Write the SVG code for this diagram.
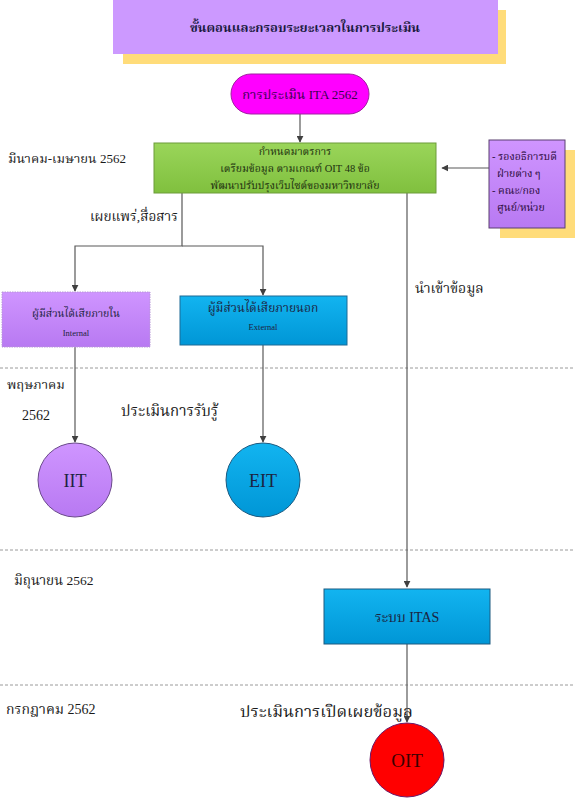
<svg xmlns="http://www.w3.org/2000/svg" width="575" height="800" viewBox="0 0 575 800">
<defs>
<style>
text{font-family:"Liberation Serif","Noto Serif Thai","Noto Sans Thai","DejaVu Serif",serif;fill:#1a1a1a}
.lbl{font-size:14px}
.mid{text-anchor:middle}
.conn{stroke:#595959;stroke-width:1.2;fill:none}
.dash{stroke:#9a9a9a;stroke-width:1;stroke-dasharray:3,2}
.nt{fill:#1c2340}
</style>
<linearGradient id="gPur" x1="0" y1="0" x2="0" y2="1"><stop offset="0" stop-color="#cf95ff"/><stop offset="1" stop-color="#b879f2"/></linearGradient>
<linearGradient id="gBlue" x1="0" y1="0" x2="0" y2="1"><stop offset="0" stop-color="#12b4f0"/><stop offset="1" stop-color="#0096d6"/></linearGradient>
<linearGradient id="gGreen" x1="0" y1="0" x2="0" y2="1"><stop offset="0" stop-color="#9ad55a"/><stop offset="1" stop-color="#80c03e"/></linearGradient>
<marker id="arr" viewBox="0 0 10 10" refX="9" refY="5" markerWidth="7" markerHeight="7" orient="auto" markerUnits="userSpaceOnUse"><path d="M0,0 L10,5 L0,10 z" fill="#404040"/></marker>
</defs>
<rect width="575" height="800" fill="#ffffff"/>

<g id="dividers">
<line class="dash" x1="0" y1="368" x2="575" y2="368"/>
<line class="dash" x1="0" y1="550" x2="575" y2="550"/>
<line class="dash" x1="0" y1="685" x2="575" y2="685"/>
</g>

<g id="title">
<rect x="123" y="10" width="383" height="54" fill="#ffdc7a"/>
<rect x="113" y="0" width="385" height="54" fill="#cc99ff"/>
<text x="305" y="32" class="mid" font-size="13" font-weight="bold" style="fill:#1a1a40">ขั้นตอนและกรอบระยะเวลาในการประเมิน</text>
</g>

<g id="labels">
<text x="8" y="163" font-size="13">มีนาคม-เมษายน 2562</text>
<text x="90" y="221" font-size="13.5">เผยแพร่,สื่อสาร</text>
<text x="415" y="293" font-size="14">นำเข้าข้อมูล</text>
<text x="7" y="389" font-size="13">พฤษภาคม</text>
<text x="22" y="420" font-size="14">2562</text>
<text x="121" y="416" font-size="15">ประเมินการรับรู้</text>
<text x="14" y="585" font-size="13.5">มิถุนายน 2562</text>
<text x="6" y="714" font-size="14">กรกฎาคม 2562</text>
<text x="240" y="717" font-size="16.5">ประเมินการเปิดเผยข้อมูล</text>
</g>

<g id="connectors">
<line class="conn" x1="300" y1="114" x2="300" y2="142" marker-end="url(#arr)"/>
<line class="conn" x1="489" y1="168" x2="442" y2="168" marker-end="url(#arr)"/>
<polyline class="conn" points="182,193 182,246 75,246 75,291" marker-end="url(#arr)"/>
<polyline class="conn" points="182,246 263,246 263,295" marker-end="url(#arr)"/>
<line class="conn" x1="407" y1="193" x2="407" y2="587" marker-end="url(#arr)"/>
<line class="conn" x1="75" y1="347" x2="75" y2="442" marker-end="url(#arr)"/>
<line class="conn" x1="263" y1="345" x2="263" y2="442" marker-end="url(#arr)"/>
<line class="conn" x1="407" y1="644" x2="407" y2="722" marker-end="url(#arr)"/>
</g>

<g id="ita">
<rect x="231" y="74" width="138" height="40" rx="20" fill="#ff00ff" stroke="#a020a0" stroke-width="1"/>
<text x="300" y="99" class="mid" font-size="13" style="fill:#3a0050">การประเมิน ITA 2562</text>
</g>

<g id="measures">
<rect x="154" y="143" width="282" height="50" fill="url(#gGreen)" stroke="#6c9c3a" stroke-width="1"/>
<text x="295" y="155" class="mid" font-size="10.5" style="fill:#203010">กำหนดมาตรการ</text>
<text x="295" y="172" class="mid" font-size="10.5" style="fill:#203010">เตรียมข้อมูล ตามเกณฑ์ OIT 48 ข้อ</text>
<text x="295" y="189" class="mid" font-size="10.5" style="fill:#203010">พัฒนาปรับปรุงเว็บไซต์ของมหาวิทยาลัย</text>
</g>

<g id="units">
<rect x="500" y="150" width="75" height="88" fill="#ffdc7a"/>
<rect x="489" y="140" width="76" height="88" fill="url(#gPur)" stroke="#5a4070" stroke-width="1"/>
<text x="492" y="160" font-size="10.5" style="fill:#2a0a3a">- รองอธิการบดี</text>
<text x="497" y="177" font-size="10.5" style="fill:#2a0a3a">ฝ่ายต่าง ๆ</text>
<text x="492" y="194" font-size="10.5" style="fill:#2a0a3a">- คณะ/กอง</text>
<text x="497" y="211" font-size="10.5" style="fill:#2a0a3a">ศูนย์/หน่วย</text>
</g>

<g id="internal">
<rect x="2" y="292" width="148" height="55" fill="url(#gPur)" stroke="#b898d8" stroke-width="1" stroke-dasharray="1.5,1"/>
<text x="76" y="317" class="mid nt" font-size="10.5">ผู้มีส่วนได้เสียภายใน</text>
<text x="76" y="336" class="mid nt" font-size="8.5">Internal</text>
</g>

<g id="external">
<rect x="180" y="296" width="167" height="49" fill="url(#gBlue)" stroke="#1d6a96" stroke-width="1"/>
<text x="263" y="312" class="mid nt" font-size="12">ผู้มีส่วนได้เสียภายนอก</text>
<text x="263" y="330" class="mid nt" font-size="8.5">External</text>
</g>

<g id="iit">
<circle cx="75" cy="480" r="37" fill="url(#gPur)" stroke="#6a4a8a" stroke-width="1"/>
<text x="75" y="487" class="mid nt" font-size="18">IIT</text>
</g>

<g id="eit">
<circle cx="263" cy="480" r="37" fill="url(#gBlue)" stroke="#1d5a80" stroke-width="1"/>
<text x="263" y="487" class="mid nt" font-size="18">EIT</text>
</g>

<g id="itas">
<rect x="324" y="589" width="166" height="55" fill="url(#gBlue)" stroke="#1d5a80" stroke-width="1"/>
<text x="407" y="622" class="mid nt" font-size="14">ระบบ ITAS</text>
</g>

<g id="oit">
<circle cx="407" cy="760" r="37" fill="#ff0000" stroke="#6a1a6a" stroke-width="1"/>
<text x="407" y="767" class="mid" font-size="19" style="fill:#3a0000">OIT</text>
</g>
</svg>
